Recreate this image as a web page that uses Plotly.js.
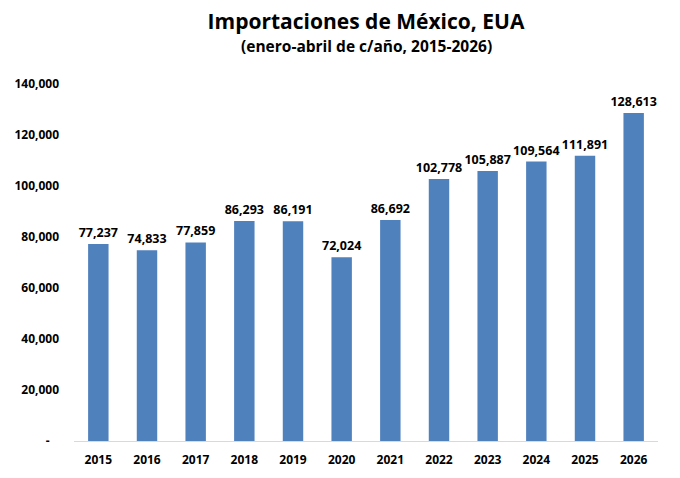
<!DOCTYPE html>
<html>
<head>
<meta charset="utf-8">
<script src="https://cdn.plot.ly/plotly-3.0.1.min.js"></script>
<style>
  html, body { margin: 0; padding: 0; background: #fff; }
  #myDiv { width: 680px; height: 478px; }
</style>
</head>
<body>
<div id="myDiv"></div>
<script>
var years = ['2015', '2016', '2017', '2018', '2019', '2020', '2021', '2022', '2023', '2024', '2025', '2026'];
var importaciones = [77237, 74833, 77859, 86293, 86191, 72024, 86692, 102778, 105887, 109564, 111891, 128613];
var yTicks = [0, 20000, 40000, 60000, 80000, 100000, 120000, 140000];
var yTickText = ['-   ', '20,000', '40,000', '60,000', '80,000', '100,000', '120,000', '140,000'];

var fontFam = 'Open Sans, Lato, sans-serif';

var data = [{
  x: years,
  y: importaciones,
  type: 'bar',
  marker: {color: '#4F81BD'},
  text: importaciones.map(function (v) { return '<b>' + v.toLocaleString('en-US') + '</b>'; }),
  textposition: 'outside',
  constraintext: 'none',
  textfont: {family: fontFam, size: 12.5, color: '#000'},
  cliponaxis: false,
  hoverinfo: 'x+y'
}];

var layout = {
  width: 680,
  height: 478,
  margin: {l: 74, r: 22, t: 84, b: 37},
  paper_bgcolor: '#fff',
  plot_bgcolor: '#fff',
  title: {
    text: '<b>Importaciones de México, EUA</b>',
    font: {family: fontFam, size: 21, color: '#000'},
    xref: 'paper',
    x: 0.5,
    xanchor: 'center',
    yref: 'container',
    y: 0.955,
    yanchor: 'middle'
  },
  annotations: [{
    text: '<b>(enero-abril de c/año, 2015-2026)</b>',
    xref: 'paper', yref: 'paper',
    x: 0.5, xanchor: 'center',
    y: 1 + (84 - 46) / 357, yanchor: 'middle',
    showarrow: false,
    font: {family: fontFam, size: 15.5, color: '#000'}
  }],
  bargap: 0.58,
  showlegend: false,
  xaxis: {
    type: 'category',
    showline: true,
    linecolor: '#D9D9D9',
    linewidth: 1,
    ticks: '',
    ticklabelstandoff: 8,
    tickfont: {family: fontFam, size: 12, color: '#000', weight: 'bold'},
    showgrid: false,
    zeroline: false
  },
  yaxis: {
    range: [0, 140000],
    tickvals: yTicks,
    ticktext: yTickText,
    ticklabelstandoff: 14,
    tickfont: {family: fontFam, size: 12, color: '#000', weight: 'bold'},
    showgrid: false,
    zeroline: false,
    showline: false,
    ticks: '',
    ticklen: 0
  }
};

Plotly.newPlot('myDiv', data, layout, {displayModeBar: false, staticPlot: true});
</script>
</body>
</html>
